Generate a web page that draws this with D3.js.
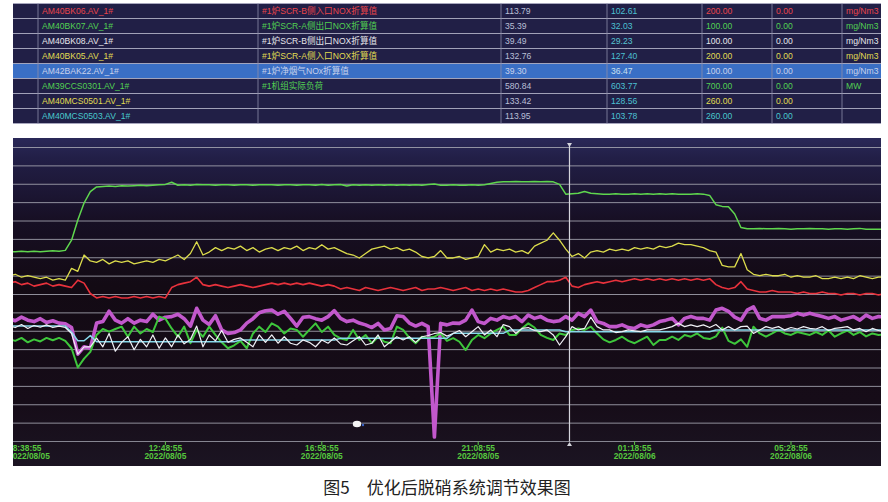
<!DOCTYPE html>
<html><head><meta charset="utf-8">
<script src="https://cdn.jsdelivr.net/npm/d3@7"></script>
<style>
html,body{margin:0;padding:0;background:#fff;}
svg{display:block;}
</style></head><body>
<svg id="c" width="888" height="502"></svg>
<script>
// ---------- table data ----------
const tagNames = ["AM40BK06.AV_1#","AM40BK07.AV_1#","AM40BK08.AV_1#","AM40BK05.AV_1#","AM42BAK22.AV_1#","AM39CCS0301.AV_1#","AM40MCS0501.AV_1#","AM40MCS0503.AV_1#"];
const tagDescs = ["#1炉SCR-B侧入口NOX折算值","#1炉SCR-A侧出口NOX折算值","#1炉SCR-B侧出口NOX折算值","#1炉SCR-A侧入口NOX折算值","#1炉净烟气NOx折算值","#1机组实际负荷","",""];
const curValues = ["113.79","35.39","39.49","132.76","39.30","580.84","133.42","113.95"];
const prevValues = ["102.61","32.03","29.23","127.40","36.47","603.77","128.56","103.78"];
const rangeMax = [200,100,100,200,100,700,260,260];
const rangeMin = [0,0,0,0,0,0,0,0];
const units = ["mg/Nm3","mg/Nm3","mg/Nm3","mg/Nm3","mg/Nm3","MW","",""];
const rowColors = ["#e8454a","#52d052","#e6e6ea","#e0dc52","#c8d2ec","#52d052","#e0dc52","#48c8cc"];
const selectedRow = 4;

// ---------- time axis ----------
const tickTimes = ["2022-08-05 08:38:55","2022-08-05 12:48:55","2022-08-05 16:58:55","2022-08-05 21:08:55","2022-08-06 01:18:55","2022-08-06 05:28:55"];
const sampleStepMinutes = 10;
const cursorTime = "2022-08-05 23:34:50";

// ---------- series (sampled every 10 min from 08:38:55) ----------
// #1 unit load, MW (range 0-700)
const loadMW = [448,449,450,449,450,449,450,451,450,452,
476,524,564,591,602,
603,604,603,605,604,605,606,605,606,607,
608,613,606,
607,606,608,607,607,606,607,607,606,607,607,606,607,
607,607,606,607,607,606,607,607,606,608,606,607,608,604,607,
606,607,606,607,606,607,606,607,606,607,606,608,609,
606,606,607,606,606,607,606,
607,610,
613,614,614,615,614,614,615,614,615,614,
608,585,586,587,591,587,
586,585,585,586,585,585,586,585,586,585,586,585,586,585,585,585,586,585,
582,560,556,555,538,506,503,
503,504,503,503,504,503,502,503,503,504,503,503,502,503,503,502,503,504,502,502,502,502];
// SCR-A inlet NOx, mg/Nm3 (0-200)
const scrAInletNOx = [112,113,111,112,111,110,111,109,110,109,
117,115,126,122,121,123,120,122,121,122,
120,121,122,121,123,122,124,126,123,127,
135,126,128,131,129,131,130,132,129,131,
128,130,131,129,131,130,132,129,131,130,
133,130,131,129,127,126,124,127,130,131,
132,130,131,129,130,128,125,124,125,129,
124,124,125,123,124,125,133,128,130,129,
130,128,129,127,132,134,136,141,136,130,
125,127,124,128,129,128,130,129,130,129,
131,130,131,130,132,131,132,134,133,133,
132,131,129,128,119,118,118,127,116,113,
112,113,112,112,113,111,112,111,111,112,
110,110,111,110,111,110,112,111,110,111,111];
// SCR-B inlet NOx, mg/Nm3 (0-200)
const scrBInletNOx = [107,108,106,107,105,106,107,105,106,105,
104,109,107,100,97,98,97,98,97,97,
98,97,98,97,98,97,104,106,107,108,
111,106,105,106,105,104,105,106,105,104,
105,106,107,106,107,106,107,106,107,106,
105,106,105,103,104,103,102,104,103,102,
103,104,103,102,103,104,102,103,103,104,
103,102,103,104,102,103,102,103,102,103,
102,101,101,102,104,106,108,108,109,111,
105,104,106,107,108,107,108,109,108,109,
110,109,110,109,110,109,110,109,110,109,
110,109,110,106,104,103,104,108,103,102,
101,101,102,101,101,101,100,101,100,100,
101,100,100,99,100,100,99,100,100,99,100];
// Net flue gas NOx, mg/Nm3 (0-100)
const netNOx = [41.5,40.8,42.0,41.0,40.5,41.5,40.2,40.8,40.0,39.8,
38.5,29.5,32.0,31.5,40.0,40.5,44.0,41.0,40.0,41.5,
40.0,41.0,40.5,43.0,41.0,42.0,42.2,43.0,41.5,39.0,
45.0,41.0,39.5,42.5,37.7,36.5,36.8,37.7,40.0,41.5,
43.5,44.2,44.4,43.0,44.0,41.6,39.0,42.0,42.2,41.5,
41.0,42.2,44.2,41.6,40.5,41.0,40.0,39.4,38.5,39.9,
37.7,38.2,42.5,42.2,40.0,39.0,39.9,38.8,1.5,39.9,
39.4,40.0,39.9,41.0,44.4,40.5,39.9,41.6,41.0,42.2,
41.6,42.2,40.5,42.7,41.6,42.2,41.0,40.5,40.8,42.2,
41.0,43.3,42.2,44.4,40.5,39.9,38.8,38.8,39.4,38.5,
38.2,39.4,38.8,39.4,40.5,41.0,41.6,39.4,41.6,42.2,
41.6,41.6,41.0,44.4,45.0,44.0,42.0,41.0,44.4,45.5,
41.6,41.0,42.2,42.2,42.2,42.5,43.3,42.7,43.3,42.7,
42.2,41.6,42.2,41.0,41.6,42.2,41.0,42.7,41.6,42.2,42.0];
// SCR-A outlet NOx, mg/Nm3 (0-100)
const scrAOutletNOx = [34.5,34.0,35.0,33.5,34.5,33.8,35.0,34.2,35.0,34.0,
31.5,25.0,28.0,30.3,36.0,38.0,37.1,38.0,38.8,35.4,
38.8,36.5,38.0,37.0,42.2,41.5,38.2,35.4,38.8,33.2,
37.7,35.4,38.8,36.0,33.5,31.5,32.5,34.0,31.5,36.5,
38.8,37.0,39.9,38.8,36.5,38.2,37.7,35.4,37.7,39.9,
37.0,38.8,36.0,34.8,34.3,37.7,34.3,36.0,33.2,35.4,
33.7,33.2,38.8,37.7,35.0,33.2,35.4,35.0,35.4,36.5,
34.0,34.9,33.7,30.9,34.3,36.0,34.9,36.5,37.7,38.8,
36.0,36.0,38.2,39.9,38.5,36.0,35.0,34.3,36.5,36.0,
37.7,38.2,37.7,38.8,36.5,34.5,33.5,34.3,35.4,34.0,
33.2,34.3,35.4,32.6,34.3,34.3,35.4,34.3,36.0,35.4,
36.5,35.0,34.6,35.5,38.5,34.0,33.0,34.5,32.0,38.8,
36.5,35.4,36.5,37.7,36.5,36.0,37.0,36.5,36.0,37.0,
36.0,37.5,35.4,36.5,37.5,36.0,37.0,35.5,36.5,36.0,36.2];
// SCR-B outlet NOx, mg/Nm3 (0-100)
const scrBOutletNOx = [39.0,38.5,39.5,38.2,39.2,38.6,39.4,38.5,39.0,38.5,
36.5,29.5,32.0,32.0,34.9,32.0,36.5,30.5,33.5,35.4,
31.0,34.5,32.0,36.0,31.5,35.0,32.0,36.0,33.0,34.5,
39.0,32.0,36.0,34.0,37.5,33.5,34.5,35.0,33.5,32.0,
36.0,33.5,36.0,33.2,35.4,33.2,32.6,34.3,33.5,32.0,
34.3,33.2,35.0,33.0,32.6,34.0,35.4,32.6,33.2,36.0,
32.0,33.7,35.4,34.3,35.4,33.5,35.4,35.8,36.5,36.8,
35.6,36.5,37.5,35.4,37.1,38.8,36.0,37.7,35.4,39.5,
38.8,36.5,38.2,38.5,37.5,37.1,37.7,36.0,32.6,35.4,
38.8,37.7,38.2,42.0,38.8,37.7,37.7,36.8,37.1,37.7,
37.4,37.1,37.7,37.7,37.7,38.2,38.8,39.9,38.8,39.4,
38.8,39.4,38.5,39.5,37.7,38.8,37.7,38.8,39.0,36.5,
37.7,38.8,38.2,38.8,37.7,38.5,38.0,38.8,38.2,38.0,
38.8,37.5,38.2,38.5,38.8,37.7,38.2,37.1,38.2,37.5,37.1];
// AM40MCS0503 (0-260)
const mcs0503 = [101.5,101.5,101.5,101.5,101.5,101.5,101.5,101.5,101.5,101.5,
96.0,88.5,88.5,93.0,
87.6,87.6,87.6,87.6,87.6,87.6,87.6,87.6,87.6,87.6,87.6,87.6,87.6,87.6,87.6,87.6,87.6,87.6,87.6,87.6,87.6,87.6,87.6,
89.1,89.1,89.1,89.1,89.1,89.1,89.1,89.1,89.1,89.1,89.1,89.1,89.1,89.1,89.1,89.1,
90.6,90.6,90.6,90.6,90.6,90.6,90.6,90.6,90.6,90.6,90.6,90.6,90.6,90.6,90.6,90.6,90.6,90.6,
95.0,95.0,95.0,95.0,95.0,95.0,95.0,95.0,95.0,
97.9,97.9,97.9,97.9,97.9,97.9,97.9,97.9,97.9,
96.4,96.4,96.4,96.4,96.4,96.4,96.4,96.4,96.4,96.4,96.4,96.4,96.4,96.4,96.4,96.4,96.4,96.4,96.4,96.4,96.4,96.4,96.4,96.4,
97.9,97.9,97.9,97.9,97.9,97.9,97.9,97.9,97.9,97.9,97.9,97.9,97.9,97.9,97.9,97.9,97.9,97.9,97.9,97.9,97.9,97.9,97.9,97.9,97.9,97.9,97.9,97.9];

const caption = "图5　优化后脱硝系统调节效果图";

// ---------- drawing ----------
const svg = d3.select("#c");
const W = 888;
const tbl = {left:13, right:881, top:3.5, rowH:15};
const colX = [13,38,258,501,607,702,772,842,881];
const latin = "'Liberation Sans', Arial, 'Noto Sans CJK SC', sans-serif";

// table
const tg = svg.append("g");
const rowsG = tg.selectAll("g.row").data(tagNames).join("g")
  .attr("transform",(d,i)=>`translate(0,${tbl.top+i*tbl.rowH})`);
rowsG.append("rect").attr("x",tbl.left).attr("y",0).attr("width",tbl.right-tbl.left).attr("height",tbl.rowH)
  .attr("fill",(d,i)=> i===selectedRow ? "#3a6fc5" : "#211f46");
const cellTexts = (i)=>[tagNames[i], tagDescs[i], curValues[i], prevValues[i], rangeMax[i].toFixed(2), rangeMin[i].toFixed(2), units[i]];
rowsG.each(function(d,i){
  const g = d3.select(this);
  const vals = cellTexts(i);
  vals.forEach((v,c)=>{
    let fill = rowColors[i];
    if(c===2) fill = i===selectedRow ? "#c8d2ec" : "#b9bfd6";
    if(c===3) fill = i===selectedRow ? "#c8e0f0" : (i===2? "#58c4d0":"#4cc0d2");
    g.append("text").attr("x",colX[c+1]+4).attr("y",tbl.rowH/2+3.2)
      .attr("font-family",latin).attr("font-size",8.6).attr("fill",fill).text(v);
  });
});
// table grid lines
for(let i=0;i<=tagNames.length;i++){
  tg.append("line").attr("x1",tbl.left).attr("x2",tbl.right)
    .attr("y1",tbl.top+i*tbl.rowH).attr("y2",tbl.top+i*tbl.rowH)
    .attr("stroke","#a9a9bf").attr("stroke-width",0.9);
}
colX.forEach((x,k)=>{
  if(k===0||k===colX.length-1) return;
  tg.append("line").attr("x1",x).attr("x2",x).attr("y1",tbl.top).attr("y2",tbl.top+tagNames.length*tbl.rowH)
    .attr("stroke","#8e8ea8").attr("stroke-width",0.8);
});

// chart area
const P = {left:13, right:881, top:138, bottom:466, gridTop:147.5, gridBottom:441.5};
const defs = svg.append("defs");
const grad = defs.append("linearGradient").attr("id","bg").attr("x1",0).attr("y1",0).attr("x2",0).attr("y2",1);
[[0,"#2a2858"],[0.06,"#221f47"],[0.25,"#170f24"],[0.45,"#130a14"],[0.8,"#160c18"],[1,"#1b1422"]]
  .forEach(([o,c])=>grad.append("stop").attr("offset",o).attr("stop-color",c));
defs.append("clipPath").attr("id","clip").append("rect")
  .attr("x",P.left).attr("y",P.top).attr("width",P.right-P.left).attr("height",P.gridBottom-P.top);
defs.append("clipPath").attr("id","clipAll").append("rect")
  .attr("x",P.left).attr("y",P.top).attr("width",P.right-P.left).attr("height",P.bottom-P.top);

svg.append("rect").attr("x",P.left).attr("y",P.top).attr("width",P.right-P.left).attr("height",P.bottom-P.top)
  .attr("fill","url(#bg)");

const parse = d3.timeParse("%Y-%m-%d %H:%M:%S");
const ticks = tickTimes.map(parse);
const x = d3.scaleTime().domain([ticks[0], ticks[ticks.length-1]]).range([9, 791]);
const gridY = d3.scaleLinear().domain([0,16]).range([P.gridBottom, P.gridTop]);

// grid lines
svg.append("g").selectAll("line").data(d3.range(0,17)).join("line")
  .attr("x1",P.left).attr("x2",P.right).attr("y1",d=>gridY(d)).attr("y2",d=>gridY(d))
  .attr("stroke",d=> d===0 ? "#9a9aa6" : "#a6a6b2").attr("stroke-opacity",0.85).attr("stroke-width",1);

// series
const series = [
  {values:loadMW, row:5, color:"#5fd64e", width:1.5},
  {values:scrAInletNOx, row:3, color:"#dcdc4c", width:1.3},
  {values:scrBInletNOx, row:0, color:"#e8323c", width:1.6},
  {values:netNOx, row:4, color:"#c258cc", width:3.6},
  {values:scrAOutletNOx, row:1, color:"#3ec63c", width:2.0},
  {values:mcs0503, row:7, color:"#86d8ea", width:1.5},
  {values:scrBOutletNOx, row:2, color:"#f0f0f6", width:1.2}
];
const t0 = ticks[0];
const lg = svg.append("g").attr("clip-path","url(#clip)");
series.forEach(s=>{
  const y = d3.scaleLinear().domain([rangeMin[s.row], rangeMax[s.row]]).range([P.gridBottom, 145.5]);
  const line = d3.line()
    .x((d,i)=>x(d3.timeMinute.offset(t0, i*sampleStepMinutes)))
    .y(d=>y(d));
  lg.append("path").datum(s.values).attr("d",line).attr("fill","none")
    .attr("stroke",s.color).attr("stroke-width",s.width).attr("stroke-linejoin","round");
});

// cursor
const cx = x(parse(cursorTime));
svg.append("line").attr("x1",cx).attr("x2",cx).attr("y1",143).attr("y2",P.gridBottom)
  .attr("stroke","#d4d4dc").attr("stroke-width",1.2);
svg.append("path").attr("d",`M${cx-2.5},143L${cx+2.5},143L${cx},147Z`).attr("fill","#d4d4dc");
svg.append("path").attr("d",`M${cx-2.5},446L${cx+2.5},446L${cx},442Z`).attr("fill","#d4d4dc");

// mouse pointer blob
svg.append("ellipse").attr("cx",357).attr("cy",424).attr("rx",4.2).attr("ry",3.3).attr("fill","#f4f4f4");
svg.append("circle").attr("cx",363).attr("cy",425).attr("r",1.2).attr("fill","#3a64c8");

// x-axis labels
const fmtT = d3.timeFormat("%H:%M:%S"), fmtD = d3.timeFormat("%Y/%m/%d");
const ag = svg.append("g").attr("clip-path","url(#clipAll)");
ticks.forEach((t,i)=>{
  const tx = x(t);
  const first = i===0;
  const px = first ? tx-1 : tx;
  const anchor = first ? "start" : "middle";
  if(!first) ag.append("line").attr("x1",tx).attr("x2",tx).attr("y1",P.gridBottom).attr("y2",P.gridBottom+3.5)
      .attr("stroke","#5cc848").attr("stroke-width",1);
  ag.append("text").attr("x",px).attr("y",450.5).attr("text-anchor",anchor)
    .attr("font-family",latin).attr("font-weight","bold").attr("font-size",8.4).attr("fill","#56c83e").text(fmtT(t));
  ag.append("text").attr("x",px).attr("y",459).attr("text-anchor",anchor)
    .attr("font-family",latin).attr("font-weight","bold").attr("font-size",8.4).attr("fill","#56c83e").text(fmtD(t));
});

// caption
svg.append("text").attr("x",447).attr("y",494).attr("text-anchor","middle")
  .attr("font-family","'Noto Sans CJK SC', sans-serif").attr("font-size",17).attr("fill","#222")
  .text(caption);
</script>
</body></html>
